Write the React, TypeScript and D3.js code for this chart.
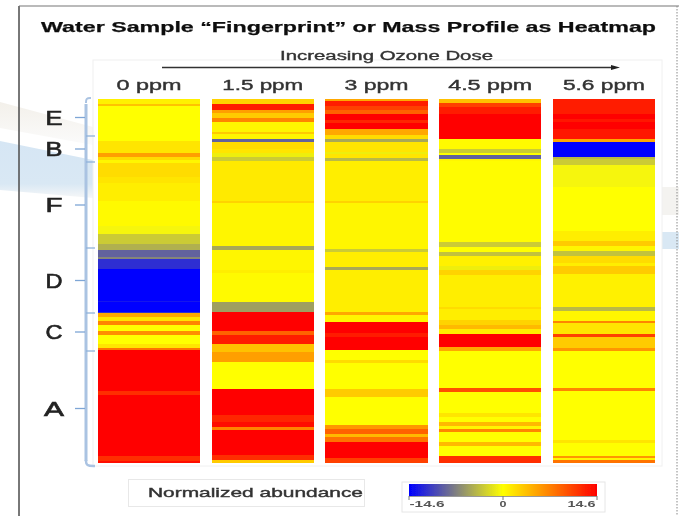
import React from "react";
import { scaleBand, scaleLinear, range, cumsum, line, curveBasis } from "d3";

const doses = ["0 ppm", "1.5 ppm", "3 ppm", "4.5 ppm", "5.6 ppm"];
const doseLabelWidths = [65, 81, 64, 84, 82];

// every column is a list of [number of rows, normalized abundance], top to bottom
const ppm0 = [[5,0.8],[2,3.5],[35,0],[12,1.5],[4,5.5],[3,2],[3,0.5],[14,2],[6,1.5],[18,1],[25,0.3],[8,-0.5],[10,-3],[6,-4.5],[7,-9],[2,-7],[10,-12],[32,-14.6],[1,-13.5],[10,-14.6],[1,-12],[4,5],[4,1.5],[4,7],[6,0],[4,6.5],[9,0],[4,1.5],[2,8],[41,14.6],[4,12],[61,14.6],[5,12],[2,14]];
const ppm15 = [[5,2.5],[6,13],[3,5.5],[5,3],[4,7],[10,0.5],[2,3],[5,0.5],[3,-9],[7,2],[4,1.5],[4,-1],[4,-3],[40,1.2],[2,2.5],[43,0.5],[4,-5],[20,0.5],[3,1],[29,0.3],[10,-5.5],[19,14.6],[4,9],[9,13],[8,3.5],[10,5.5],[27,0],[26,14.6],[7,12.5],[5,14],[3,7],[25,14.6],[5,12],[3,3]];
const ppm3 = [[2,5],[5,13],[4,11],[4,9],[6,14.6],[3,12.5],[6,14.6],[6,5],[4,2],[3,-5],[10,1.5],[2,-1],[4,1.5],[3,-4],[40,1],[2,2.5],[46,0.5],[3,-3],[15,1],[3,-5],[42,1],[3,5],[7,0.5],[11,14.6],[4,13],[13,14.6],[10,0],[3,2],[26,0],[8,3],[28,0],[4,6],[5,9],[3,4],[5,8],[16,14.6],[5,11]];
const ppm45 = [[4,3.5],[4,11],[7,13],[25,14.6],[10,0.3],[4,-3],[2,0],[4,-9],[2,0.5],[81,0.2],[5,-3],[5,0],[4,-3.5],[10,0.8],[4,-1],[5,2.5],[32,1],[2,2],[11,1],[5,2.5],[4,4],[5,1],[13,14.6],[4,5],[37,0],[4,10],[21,0],[4,1.5],[5,0],[4,4],[3,0.5],[3,7],[10,0],[4,4],[10,0],[7,12]];
const ppm56 = [[15,13],[5,14.6],[3,13.5],[7,14.6],[10,13.5],[3,5],[15,-14.6],[2,-4],[6,-3],[22,-0.5],[44,0],[10,1],[5,3],[5,0.5],[5,-3.5],[7,2],[3,1],[8,3],[33,0.8],[4,-4],[10,0.5],[2,7],[11,1.5],[3,11],[11,3],[3,6],[37,0],[3,7],[49,0],[3,1.5],[13,0],[2,6],[2,0.5],[3,8]];
const columns = [ppm0, ppm15, ppm3, ppm45, ppm56];

const groups = ["E", "B", "F", "D", "C", "A"];
const groupEdges = [0, 37, 63, 149, 214, 252, 367];

const legendTicks = [-14.6, 0, 14.6];
const legendSteps = range(0, 1.001, 0.1);

const x = scaleBand<string>().domain(doses).range([98, 655]).paddingInner(0.102);
const y = scaleLinear().domain([0, 364]).range([99, 463]);
const color = scaleLinear<string>().domain([-14.6, 0, 14.6]).range(["#0000ff", "#ffff00", "#ff0000"]);
const legendX = scaleLinear().domain([-14.6, 14.6]).range([409, 597]);

const sans = "'Liberation Sans', Arial, sans-serif";
const bracket = "#aac3e2";

function App() {
    const bracketTop = line<number[]>().curve(curveBasis)([[91, 98], [86, 98], [86, 103]]);
    const bracketBottom = line<number[]>().curve(curveBasis)([[86, 460], [86, 466], [95, 466]]);

    return (
        <svg width={679} height={516} style={{ position: "absolute", left: 0, top: 0, background: "#fff" }}>
            <defs>
                <filter id="soft" x="0" y="0" width="679" height="516" filterUnits="userSpaceOnUse">
                    <feGaussianBlur stdDeviation="0.6" />
                </filter>
                <filter id="softer" x="0" y="0" width="679" height="516" filterUnits="userSpaceOnUse">
                    <feGaussianBlur stdDeviation="0.7" />
                </filter>
                <linearGradient id="fadeBlue" x1="0" y1="0" x2="0" y2="1">
                    <stop offset="0" stopColor="#d6e6f4" />
                    <stop offset="0.75" stopColor="#d9e8f4" />
                    <stop offset="1" stopColor="#f6f7f8" />
                </linearGradient>
                <linearGradient id="fadeBeige" x1="0" y1="0" x2="0" y2="1">
                    <stop offset="0" stopColor="#f3f0ea" />
                    <stop offset="1" stopColor="#fbfbfb" />
                </linearGradient>
                <linearGradient id="legendRamp">
                    {legendSteps.map((t) => (
                        <stop key={t} offset={t} stopColor={color(-14.6 + t * 29.2)} />
                    ))}
                </linearGradient>
            </defs>

            {/* pale slide background behind the panel */}
            <path d="M0,102 L93,127 L93,145 L0,128 Z" fill="url(#fadeBeige)" />
            <path d="M0,141 L93,160 L93,198 L0,190 Z" fill="url(#fadeBlue)" />
            <rect x={662} y={187} width={17} height={28} fill="#f4f3f0" />
            <rect x={662} y={232} width={17} height={17} fill="#d9e8f4" />

            <rect x={93} y={60} width={569} height={406} fill="#fff" stroke="#f0f0f0" />

            <g filter="url(#soft)">
                <line x1={19} y1={6} x2={19} y2={516} stroke="#555" strokeWidth={1.6} />
                <line x1={19} y1={6} x2={679} y2={6} stroke="#777" strokeWidth={1.2} />
                <line x1={677} y1={6} x2={677} y2={516} stroke="#888" strokeDasharray="1.5 1.5" />

                {columns.map((col, i) => {
                    const ends = Array.from(cumsum(col, (c) => c[0]));
                    return (
                        <g key={doses[i]} shapeRendering="crispEdges">
                            {col.map((c, j) => (
                                <rect key={j} x={x(doses[i])} y={y(ends[j] - c[0])} width={x.bandwidth()} height={y(ends[j]) - y(ends[j] - c[0])} fill={color(c[1])} />
                            ))}
                        </g>
                    );
                })}

                {/* brackets for the mass groups */}
                <line x1={86} y1={y(5)} x2={86} y2={y(362)} stroke={bracket} strokeWidth={3} />
                <path d={bracketTop as string} fill="none" stroke={bracket} strokeWidth={2} />
                <path d={bracketBottom as string} fill="none" stroke={bracket} strokeWidth={2.5} />
                {groupEdges.slice(1, -1).map((e) => (
                    <line key={e} x1={86} y1={y(e)} x2={95} y2={y(e)} stroke="#8fb2da" strokeWidth={1.3} />
                ))}
                {groups.map((g, i) => {
                    const mid = y((groupEdges[i] + groupEdges[i + 1]) / 2);
                    return <line key={g} x1={75} y1={mid} x2={85} y2={mid} stroke="#7ea6d6" strokeWidth={1.3} />;
                })}

                <line x1={162} y1={67.5} x2={614} y2={67.5} stroke="#333" strokeWidth={1.3} />
                <path d="M611,65 L620,67.5 L611,70 Z" fill="#222" />

                {/* legend boxes */}
                <rect x={128.5} y={479.5} width={236} height={27} fill="#fff" stroke="#e8e8e8" />
                <rect x={402} y={482} width={203} height={30} fill="#fff" stroke="#e6e6e6" />
                <rect x={legendX(-14.6)} y={484} width={legendX(14.6) - legendX(-14.6)} height={12} fill="url(#legendRamp)" />
                <line x1={legendX(-14.6)} y1={496.5} x2={legendX(14.6)} y2={496.5} stroke="#999" />
            </g>

            <g filter="url(#softer)" fontFamily={sans} lengthAdjust="spacingAndGlyphs">
                <text x={348.5} y={32} textAnchor="middle" textLength={615} lengthAdjust="spacingAndGlyphs" fontWeight="bold" fontSize={15.5} fill="#111" stroke="#111" strokeWidth={0.25}>
                    Water Sample “Fingerprint” or Mass Profile as Heatmap
                </text>
                <text x={386.5} y={59.5} textAnchor="middle" textLength={213} lengthAdjust="spacingAndGlyphs" fontSize={12.5} fill="#333" stroke="#333" strokeWidth={0.35}>
                    Increasing Ozone Dose
                </text>
                {doses.map((d, i) => (
                    <text key={d} x={(x(d) as number) + x.bandwidth() / 2} y={89.5} textAnchor="middle" textLength={doseLabelWidths[i]} lengthAdjust="spacingAndGlyphs" fontSize={15.5} fill="#333" stroke="#333" strokeWidth={0.4}>
                        {d}
                    </text>
                ))}
                {groups.map((g, i) => {
                    const mid = y((groupEdges[i] + groupEdges[i + 1]) / 2);
                    return (
                        <text key={g} x={54} y={mid + 7} textAnchor="middle" textLength={g === "A" ? 20 : 17} lengthAdjust="spacingAndGlyphs" fontSize={19.5} fill="#222" stroke="#222" strokeWidth={0.6}>
                            {g}
                        </text>
                    );
                })}
                <text x={255.5} y={497} textAnchor="middle" textLength={215} lengthAdjust="spacingAndGlyphs" fontSize={13.5} fill="#333" stroke="#333" strokeWidth={0.4}>
                    Normalized abundance
                </text>
                {legendTicks.map((t) => (
                    <g key={t}>
                        <line x1={legendX(t)} y1={496} x2={legendX(t)} y2={500} stroke="#777" />
                        <text x={t === 0 ? legendX(t) : t < 0 ? 427 : 581.5} y={507} textAnchor="middle" textLength={t === 0 ? 7 : t < 0 ? 35 : 28} lengthAdjust="spacingAndGlyphs" fontWeight="bold" fontSize={9} fill="#555">
                            {t}
                        </text>
                    </g>
                ))}
            </g>
        </svg>
    );
}

export default App;
